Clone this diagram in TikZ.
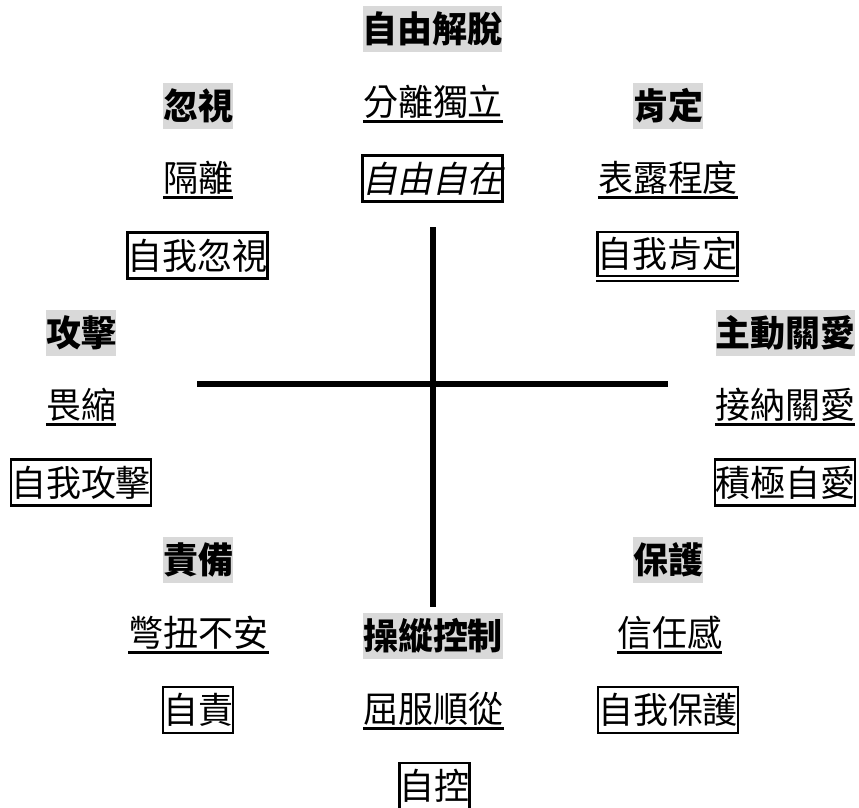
\documentclass[tikz,border=0pt]{standalone}
\usepackage{fontspec}
\setmainfont[FakeStretch=0.972]{Noto Sans CJK TC}
\newfontfamily\cjkit[FakeSlant=0.2,FakeStretch=0.972]{Noto Sans CJK TC}
\definecolor{hd}{RGB}{217,217,217}
\tikzset{
 lbl/.style={font=\fontsize{36}{42}\selectfont, inner sep=0pt, text height=29pt, text depth=1.6pt},
 head/.style={lbl, font=\fontsize{36}{42}\selectfont\bfseries, fill=hd, minimum height=46pt},
 boxed/.style={lbl, draw, line width=2.2pt, minimum height=46pt},
 ulline/.style={line width=2.2pt},
 axisline/.style={line width=6pt}
}
\begin{document}
\begin{tikzpicture}[x=1pt,y=-1pt]
\useasboundingbox (0,0) rectangle (859,807);
% cross
\coordinate (top) at (433,227);
\coordinate (bot) at (433,607);
\coordinate (lft) at (197,384);
\coordinate (rgt) at (668,384);
\draw[axisline] (top) -- (bot);
\draw[axisline] (lft) -- (rgt);

% top centre
\node[head] (h1) at (432.5,29) {自由解脫};
\node[lbl] (u1) at (433,102) {分離獨立};
\node[boxed] (b1) at (432.5,178.5) {\cjkit 自由自在};

% upper left
\node[head] (h2) at (198,106) {忽視};
\node[lbl] (u2) at (198,178) {隔離};
\node[boxed] (b2) at (197.5,255.5) {自我忽視};

% upper right
\node[head] (h3) at (668,106) {肯定};
\node[lbl] (u3) at (668,178) {表露程度};
\node[boxed, minimum height=44pt] (b3) at (667.5,254) {自我肯定};

% middle left
\node[head] (h4) at (81,332.5) {攻擊};
\node[lbl] (u4) at (81,405) {畏縮};
\node[boxed] (b4) at (81,482.5) {自我攻擊};

% middle right
\node[head] (h5) at (785.5,332.5) {主動關愛};
\node[lbl] (u5) at (785,405) {接納關愛};
\node[boxed] (b5) at (785,482.5) {積極自愛};

% lower left
\node[head] (h6) at (198,560) {責備};
\node[lbl] (u6) at (198.5,633) {彆扭不安};
\node[boxed] (b6) at (198,710) {自責};

% bottom centre
\node[head] (h7) at (433,636) {操縱控制};
\node[lbl] (u7) at (433.5,709) {屈服順從};
\node[boxed] (b7) at (434.5,786) {自控};

% lower right
\node[head] (h8) at (668,560) {保護};
\node[lbl] (u8) at (669.5,633) {信任感};
\node[boxed] (b8) at (668,710) {自我保護};

% underlines
\foreach \n in {u1,u2,u3,u4,u5,u6,u7,u8}
  \draw[ulline] ([yshift=-19.5pt]\n.west) -- ([yshift=-19.5pt]\n.east);
\draw[ulline] ([yshift=-3.5pt]b3.south west) -- ([yshift=-3.5pt]b3.south east);
\end{tikzpicture}
\end{document}
